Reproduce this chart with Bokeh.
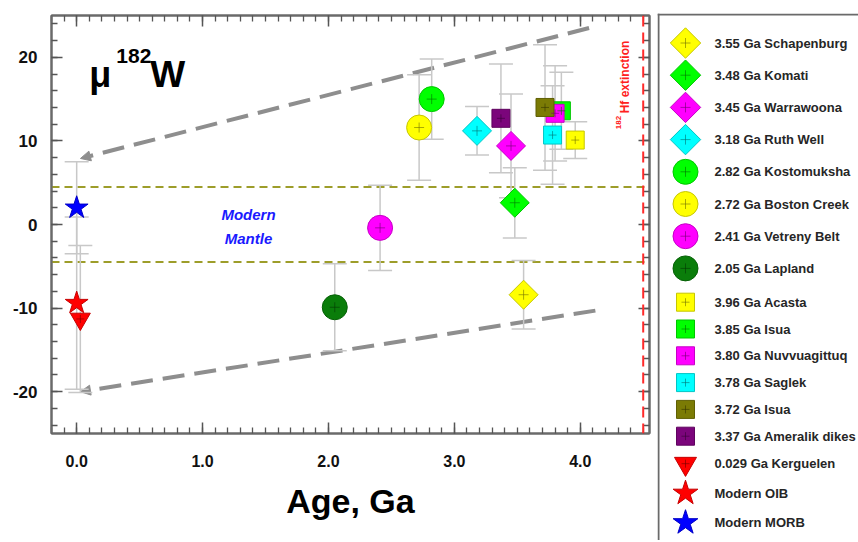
import math
from bokeh.plotting import figure
from bokeh.models import (Range1d, LinearAxis, FixedTicker, NumeralTickFormatter, Span, Label,
                          Arrow, NormalHead, Whisker, TeeHead, ColumnDataSource, CustomJSTickFormatter)
from bokeh.layouts import row
from bokeh.embed import file_html
from bokeh.resources import INLINE
from bokeh.core.properties import value

# ---------------- data ----------------
names = ["3.55 Ga Schapenburg", "3.48 Ga Komati", "3.45 Ga Warrawoona", "3.18 Ga Ruth Well",
         "2.82 Ga Kostomuksha", "2.72 Ga Boston Creek", "2.41 Ga Vetreny Belt", "2.05 Ga Lapland",
         "3.96 Ga Acasta", "3.85 Ga Isua", "3.80 Ga Nuvvuagittuq", "3.78 Ga Saglek",
         "3.72 Ga Isua", "3.37 Ga Ameralik dikes", "0.029 Ga Kerguelen", "Modern OIB", "Modern MORB"]
ages = [3.55, 3.48, 3.45, 3.18, 2.82, 2.72, 2.41, 2.05,
        3.96, 3.85, 3.80, 3.78, 3.72, 3.37, 0.029, 0.0, 0.0]
mu182w = [-8.4, 2.6, 9.4, 11.2, 15.0, 11.6, -0.4, -9.9,
          10.1, 13.6, 13.3, 10.7, 14.0, 12.7, -11.3, -9.4, 2.0]
mu_err = [4.1, 4.2, 6.2, 2.9, 4.8, 6.3, 5.1, 5.2,
          2.2, 4.6, 5.7, 5.9, 7.5, 6.5, 8.8, 10.3, 5.5]
kinds = ["diamond"] * 4 + ["circle"] * 4 + ["square"] * 6 + ["inverted_triangle", "star", "star"]
colors = ["#ffff00", "#00ff00", "#ff00ff", "#00ffff", "#00ff00", "#ffff00", "#ff00ff", "#0a7d0a",
          "#ffff00", "#00ff00", "#ff00ff", "#00ffff", "#7b7b05", "#7b057b", "#ff0000", "#ff0000", "#0000ff"]

mantle_band = [-4.5, 4.5]
hf_extinction_age = 4.5
env_upper_age = [4.07, 0.03]
env_upper_mu = [23.5, 7.9]
env_lower_age = [4.12, 0.03]
env_lower_mu = [-10.3, -20.0]

x_ticks = [0, 1, 2, 3, 4]
y_ticks = [-20, -10, 0, 10, 20]

FONT = "Liberation Sans"


def shade(hexcol, f):
    r, g, b = (int(hexcol[i:i + 2], 16) for i in (1, 3, 5))
    return "#%02x%02x%02x" % (int(r * f), int(g * f), int(b * f))


marker_map = {"diamond": "square", "circle": "circle", "square": "square",
              "inverted_triangle": "inverted_triangle", "star": "star"}
angle_map = {"diamond": math.pi / 4}
main_size = {"diamond": 20.5, "circle": 25, "square": 18, "inverted_triangle": 20, "star": 24}
leg_size = {"diamond": 21.5, "circle": 25, "square": 18, "inverted_triangle": 22, "star": 26}
cross_size = {"diamond": 10, "circle": 10, "square": 8, "inverted_triangle": 8, "star": 0}

src = ColumnDataSource(dict(
    x=ages, y=mu182w,
    lo=[m - e for m, e in zip(mu182w, mu_err)],
    hi=[m + e for m, e in zip(mu182w, mu_err)],
    marker=[marker_map[k] for k in kinds],
    angle=[angle_map.get(k, 0.0) for k in kinds],
    size=[main_size[k] for k in kinds],
    csize=[cross_size[k] for k in kinds],
    fill=colors,
    edge=[shade(c, 0.78) for c in colors],
    cross=[shade(c, 0.45) for c in colors],
))

H = 540

# ---------------- main figure ----------------
p = figure(width=656, height=H, x_range=Range1d(-0.2, 4.55), y_range=Range1d(-25, 25),
           output_backend="svg", toolbar_location=None,
           min_border_left=51, min_border_right=7, min_border_top=15, min_border_bottom=H - 433)
p.grid.visible = False
p.outline_line_color = "#6a6a6a"
p.outline_line_width = 2
p.background_fill_color = "white"

xb = p.xaxis[0]
yl = p.yaxis[0]
x_minor = [round(-0.2 + 0.1 * i, 2) for i in range(48)]
y_minor = list(range(-24, 26, 2))
xb.ticker = FixedTicker(ticks=x_ticks, minor_ticks=x_minor)
yl.ticker = FixedTicker(ticks=y_ticks, minor_ticks=y_minor)
xb.formatter = NumeralTickFormatter(format="0.0")
yl.formatter = NumeralTickFormatter(format="0")
xb.axis_label = "Age, Ga"
xb.axis_label_text_font = FONT
xb.axis_label_text_font_style = "bold"
xb.axis_label_text_font_size = "34px"
xb.axis_label_text_color = "#000000"
xb.axis_label_standoff = 12
xb.major_label_standoff = 21
yl.major_label_standoff = 14

top_ax = LinearAxis(ticker=FixedTicker(ticks=x_ticks, minor_ticks=x_minor),
                    formatter=CustomJSTickFormatter(code="return ''"))
right_ax = LinearAxis(ticker=FixedTicker(ticks=y_ticks, minor_ticks=y_minor),
                      formatter=CustomJSTickFormatter(code="return ''"))
for ax in (top_ax, right_ax):
    ax.major_label_standoff = 0
    ax.major_label_text_font_size = "1px"
p.add_layout(top_ax, "above")
p.add_layout(right_ax, "right")

for ax in (xb, yl, top_ax, right_ax):
    ax.axis_line_color = "#6a6a6a"
    ax.axis_line_width = 2
    ax.major_tick_in = 11
    ax.major_tick_out = 0
    ax.minor_tick_in = 6
    ax.minor_tick_out = 0
    ax.major_tick_line_color = "#555555"
    ax.minor_tick_line_color = "#555555"
    ax.major_tick_line_width = 1.5
    ax.minor_tick_line_width = 1.3
for ax in (xb, yl):
    ax.major_label_text_font = FONT
    ax.major_label_text_font_style = "bold"
    ax.major_label_text_color = "#111111"
xb.major_label_text_font_size = "16px"
yl.major_label_text_font_size = "17px"

# modern mantle band lines
for yv in mantle_band:
    p.add_layout(Span(location=yv, dimension="width", line_color="#9d9d2a", line_width=2,
                      line_dash="8 5", level="underlay"))
# 182Hf extinction
p.add_layout(Span(location=hf_extinction_age, dimension="height", line_color="#ff2a2a",
                  line_width=2, line_dash="11 6"))

# envelope arrows
for xs, ys in ((env_upper_age, env_upper_mu), (env_lower_age, env_lower_mu)):
    p.add_layout(Arrow(x_start=xs[0], y_start=ys[0], x_end=xs[1], y_end=ys[1],
                       line_color="#8e8e8e", line_width=4, line_dash="22 10",
                       end=NormalHead(size=10, fill_color="#8e8e8e", line_color="#8e8e8e", line_width=1),
                       level="underlay"))

# error bars
p.add_layout(Whisker(source=src, base="x", upper="hi", lower="lo", dimension="height",
                     line_color="#c8c8c8", line_width=1.5, level="underlay",
                     upper_head=TeeHead(size=24, line_color="#c8c8c8", line_width=1.5),
                     lower_head=TeeHead(size=24, line_color="#c8c8c8", line_width=1.5)))

p.scatter(x="x", y="y", source=src, marker="marker", size="size", angle="angle",
          fill_color="fill", line_color="edge", line_width=1)
p.scatter(x="x", y="y", source=src, marker="cross", size="csize",
          line_color="cross", line_alpha=0.6, line_width=1)

# texts
p.add_layout(Label(x=0.10, y=17.9, text="\u03bc", text_font=FONT, text_font_style="bold",
                   text_font_size="36px", text_color="#000000", text_baseline="alphabetic"))
p.add_layout(Label(x=0.315, y=20.1, text="182", text_font=FONT, text_font_style="bold",
                   text_font_size="21px", text_color="#000000", text_baseline="alphabetic"))
p.add_layout(Label(x=0.585, y=17.9, text="W", text_font=FONT, text_font_style="bold",
                   text_font_size="37px", text_color="#000000", text_baseline="alphabetic"))
p.add_layout(Label(x=1.365, y=1.2, text="Modern", text_font=FONT, text_font_style="bold italic",
                   text_font_size="15px", text_color="#1a1aff", text_align="center", text_baseline="middle"))
p.add_layout(Label(x=1.365, y=-1.7, text="Mantle", text_font=FONT, text_font_style="bold italic",
                   text_font_size="15px", text_color="#1a1aff", text_align="center", text_baseline="middle"))
p.add_layout(Label(x=4.357, y=13.3, text="Hf extinction", angle=math.pi / 2, text_font=FONT,
                   text_font_style="bold", text_font_size="12px", text_color="#ff2020",
                   text_align="left", text_baseline="middle"))
p.add_layout(Label(x=4.305, y=11.4, text="182", angle=math.pi / 2, text_font=FONT,
                   text_font_style="bold", text_font_size="8px", text_color="#ff2020",
                   text_align="left", text_baseline="middle"))

# ---------------- legend figure ----------------
LT = 13
lg = figure(width=202, height=H, x_range=Range1d(0, 201), y_range=Range1d(H - LT, 0),
            output_backend="svg", toolbar_location=None, x_axis_type=None, y_axis_type=None,
            min_border_left=1, min_border_top=LT, min_border_right=0, min_border_bottom=0)
lg.grid.visible = False
lg.outline_line_color = None
lg.add_layout(Span(location=1, dimension="height", line_color="#6a6a6a", line_width=2))
lg.add_layout(Span(location=1, dimension="width", line_color="#6a6a6a", line_width=2))

for fig in (p, lg):
    if "frame_align" in fig.properties():
        fig.frame_align = False

row_gap = {"diamond": 32.2, "circle": 32.2, "square": 26.8, "inverted_triangle": 27.5, "star": 29.5}
group_break = 7.0
first_row = 29.5
centers = []
prev = None
yy = first_row
for k in kinds:
    if prev is not None:
        yy += row_gap[k] + (group_break if (prev == "circle" and k == "square") else 0.0)
    centers.append(yy)
    prev = k

lsrc = ColumnDataSource(dict(
    x=[28] * len(names), tx=[57] * len(names), y=centers, text=names,
    marker=[marker_map[k] for k in kinds],
    angle=[-angle_map.get(k, 0.0) for k in kinds],
    size=[leg_size[k] for k in kinds],
    csize=[cross_size[k] for k in kinds],
    fill=colors,
    edge=[shade(c, 0.78) for c in colors],
    cross=[shade(c, 0.45) for c in colors],
))
lg.scatter(x="x", y="y", source=lsrc, marker="marker", size="size", angle="angle",
           fill_color="fill", line_color="edge", line_width=1)
lg.scatter(x="x", y="y", source=lsrc, marker="cross", size="csize",
           line_color="cross", line_alpha=0.6, line_width=1)
lg.text(x="tx", y="y", text="text", source=lsrc, text_font=value(FONT), text_font_style="bold",
        text_font_size="13px", text_baseline="middle", text_color="#262626")

layout = row(p, lg)
open("out.html", "w").write(file_html(layout, INLINE))
